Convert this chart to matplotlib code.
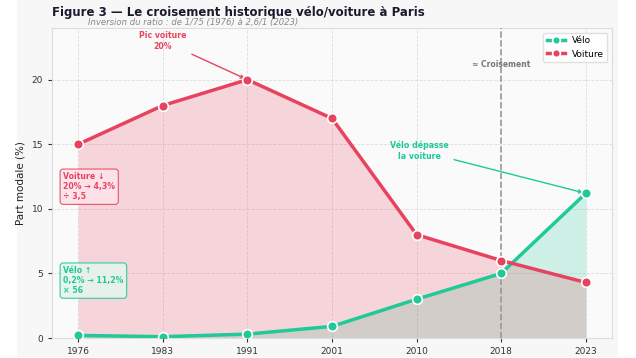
"""
Figure 3 : croisement historique vélo / voiture à Paris
"""

import matplotlib

matplotlib.use("Agg")
import matplotlib.pyplot as plt
from matplotlib.patches import Rectangle
import numpy as np

plt.rcParams["font.family"] = ["DejaVu Sans"]

# données (part modale en %)
annees = ["1976", "1983", "1991", "2001", "2010", "2018", "2023"]
velo = [0.2, 0.1, 0.3, 0.9, 3.0, 5.0, 11.2]
voiture = [15, 18, 20, 17, 8, 6, 4.3]

C_VELO = "#20c997"
C_VOIT = "#e8435e"

x = np.arange(len(annees))

fig = plt.figure(figsize=(6.36, 3.58), dpi=100, facecolor="white")
# fond gris clair de la figure
fig.patches.append(
    Rectangle((17 / 636, 1 / 358), 601 / 636, 357 / 358, transform=fig.transFigure,
              facecolor="#f7f7f7", edgecolor="none", zorder=-10)
)

ax = fig.add_axes([52 / 636, 20 / 358, 560 / 636, 310 / 358])
ax.set_facecolor("#fafafa")

# aires (vélo d'abord, voiture par-dessus)
ax.fill_between(x, 0, velo, color=C_VELO, alpha=0.2, lw=0)
ax.fill_between(x, 0, voiture, color=C_VOIT, alpha=0.2, lw=0)

# courbes
ax.plot(x, velo, "-o", color=C_VELO, lw=2.5, ms=7, mec="white", mew=1.2,
        label="Vélo", zorder=4)
ax.plot(x, voiture, "-o", color=C_VOIT, lw=2.5, ms=7, mec="white", mew=1.2,
        label="Voiture", zorder=4)

# ligne de croisement
ax.axvline(5, color="#999999", ls="--", lw=1.2, zorder=3)
ax.text(5, 21.2, "≈ Croisement", ha="center", va="center", fontsize=5.5,
        color="#777777", fontweight="bold")

# annotations
ax.annotate("Pic voiture\n20%", xy=(2, 20), xytext=(1.0, 23.0),
            ha="center", va="center", fontsize=5.6, fontweight="bold", color=C_VOIT,
            arrowprops=dict(arrowstyle="->", color=C_VOIT, lw=1))
ax.annotate("Vélo dépasse\nla voiture", xy=(6, 11.2), xytext=(4.03, 14.5),
            ha="center", va="center", fontsize=5.7, fontweight="bold", color=C_VELO,
            arrowprops=dict(arrowstyle="->", color=C_VELO, lw=1))

# encadrés
ax.text(0.02, 0.535, "Voiture ↓\n20% → 4,3%\n÷ 3,5", transform=ax.transAxes,
        ha="left", va="top", fontsize=5.6, fontweight="bold", color=C_VOIT,
        linespacing=1.15,
        bbox=dict(boxstyle="round,pad=0.4", facecolor="#fde4ea", edgecolor=C_VOIT,
                  alpha=0.9, lw=0.8))
ax.text(0.02, 0.232, "Vélo ↑\n0,2% → 11,2%\n× 56", transform=ax.transAxes,
        ha="left", va="top", fontsize=5.6, fontweight="bold", color=C_VELO,
        linespacing=1.15,
        bbox=dict(boxstyle="round,pad=0.4", facecolor="#e6f5ec", edgecolor=C_VELO,
                  alpha=0.9, lw=0.8))

ax.set_xlim(-0.31, 6.31)
ax.set_ylim(0, 24)
ax.set_xticks(x)
ax.set_xticklabels(annees)
ax.set_yticks([0, 5, 10, 15, 20])
ax.tick_params(labelsize=6.5, colors="#333333", length=3)
ax.set_ylabel("Part modale (%)", fontsize=7.5, color="#222222")
ax.grid(True, ls="--", lw=0.6, color="#dddddd")
ax.set_axisbelow(True)
for s in ax.spines.values():
    s.set_color("#dddddd")

ax.legend(loc="upper right", fontsize=6.5, framealpha=0.9, edgecolor="#dddddd",
          handlelength=2.0, markerscale=0.8)

fig.text(52 / 636, 1 - 16 / 358, "Figure 3 — Le croisement historique vélo/voiture à Paris",
         ha="left", va="baseline", fontsize=8.5, fontweight="bold", color="#1a1a2e")
fig.text(88 / 636, 1 - 25 / 358, "Inversion du ratio : de 1/75 (1976) à 2,6/1 (2023)",
         ha="left", va="baseline", fontsize=6.1, style="italic", color="#888888")

fig.savefig("out.png", dpi=100)
